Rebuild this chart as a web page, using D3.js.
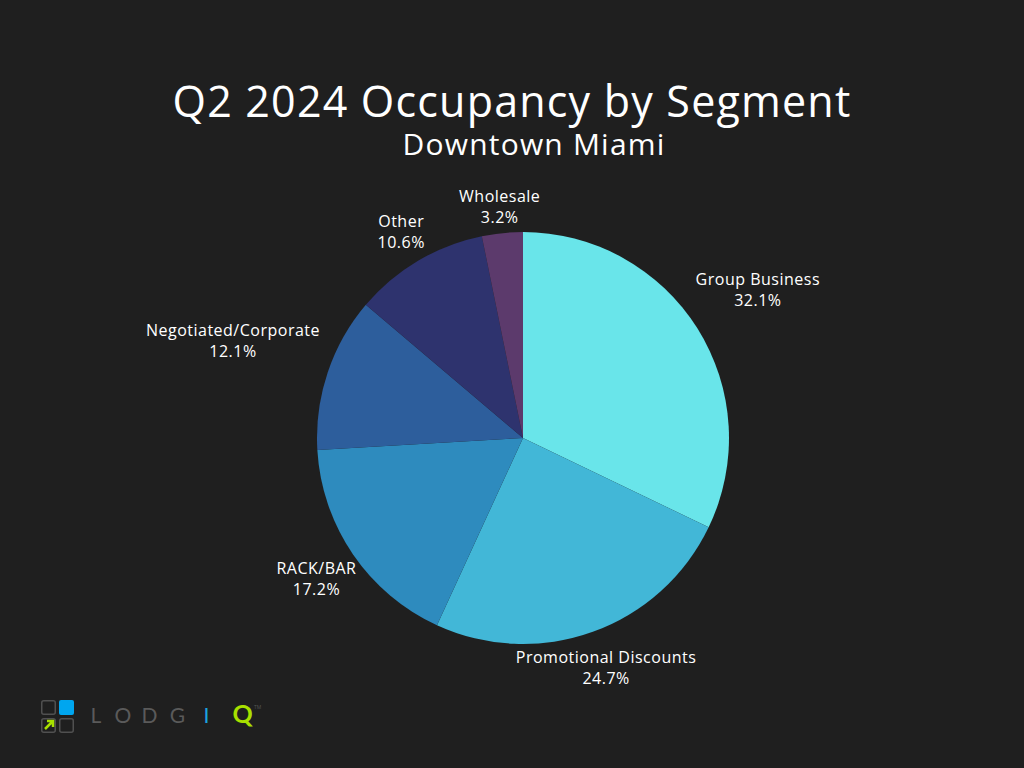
<!DOCTYPE html>
<html>
<head>
<meta charset="utf-8">
<script src="https://cdn.jsdelivr.net/npm/d3@7"></script>
<style>
  body { margin: 0; background: #1f1f1f; }
  svg { display: block; font-family: "Open Sans", Lato, sans-serif; }
</style>
</head>
<body>
<div id="chart"></div>
<script>
const segments = ["Group Business", "Promotional Discounts", "RACK/BAR", "Negotiated/Corporate", "Other", "Wholesale"];
const shares = [32.1, 24.7, 17.2, 12.1, 10.6, 3.2];
const colors = ["#69e5ea", "#42b7d7", "#2e8bbe", "#2d5e9c", "#2e336e", "#5c3a6c"];

const width = 1024, height = 768;
const cx = 523, cy = 438, radius = 206;

const svg = d3.select("#chart")
    .append("svg")
    .attr("width", width)
    .attr("height", height);

svg.append("rect").attr("width", width).attr("height", height).attr("fill", "#1f1f1f");

// titulo
svg.append("text")
    .attr("x", 512).attr("y", 117)
    .attr("text-anchor", "middle")
    .attr("fill", "#fff")
    .style("font-size", "43px")
    .style("letter-spacing", "1.2px")
    .text("Q2 2024 Occupancy by Segment");

svg.append("text")
    .attr("x", 534).attr("y", 155)
    .attr("text-anchor", "middle")
    .attr("fill", "#fff")
    .style("font-size", "30px")
    .style("letter-spacing", "1.2px")
    .text("Downtown Miami");

const pieData = segments.map((s, i) => ({ key: s, value: shares[i], color: colors[i] }));
const pie = d3.pie().sort(null).value(d => d.value);
const arc = d3.arc().innerRadius(0).outerRadius(radius);

const g = svg.append("g").attr("transform", `translate(${cx}, ${cy})`);

const arcs = g.selectAll(".arc")
    .data(pie(pieData))
    .enter()
    .append("g")
    .attr("class", "arc");

arcs.append("path")
    .attr("d", arc)
    .attr("fill", d => d.data.color);

// labels fora da tarte, empurrados ao longo do raio conforme a largura do texto
const lineH = 21;
arcs.each(function (d) {
    const a = (d.startAngle + d.endAngle) / 2;
    const ux = Math.sin(a), uy = -Math.cos(a);
    const label = d3.select(this).append("text")
        .attr("text-anchor", "middle")
        .attr("fill", "#fff")
        .style("font-size", "16px")
        .style("letter-spacing", "0.5px");
    label.append("tspan").attr("x", 0).attr("dy", 0).text(d.data.key);
    label.append("tspan").attr("x", 0).attr("dy", lineH).text(`${d.data.value.toFixed(1)}%`);

    const hw = label.node().getBBox().width / 2;
    const dist = radius + 15 + hw * Math.abs(ux) - 7 * uy;
    const x = ux * dist, y = uy * dist;
    label.attr("transform", `translate(${x}, ${y - 5.5})`);
});

// logo
const logo = svg.append("g").attr("transform", "translate(41, 700)");
const sq = 15, gap = 3;
[[0, 0], [1, 1], [0, 1]].forEach(([c, r]) => {
    logo.append("rect")
        .attr("x", c * (sq + gap) + 0.75).attr("y", r * (sq + gap) + 0.75)
        .attr("width", sq - 1.5).attr("height", sq - 1.5)
        .attr("rx", 2)
        .attr("fill", "none")
        .attr("stroke", "#505050")
        .attr("stroke-width", 1.5);
});
logo.append("rect")
    .attr("x", sq + gap).attr("y", 0)
    .attr("width", sq).attr("height", sq)
    .attr("rx", 2)
    .attr("fill", "#00a6ef");
logo.append("path")
    .attr("d", "M4,29 L11,22 M6,21 L12,21 L12,27")
    .attr("stroke", "#a8e000")
    .attr("stroke-width", 2.5)
    .attr("fill", "none");

const letters = ["L", "O", "D", "G", "I", "Q"];
const letterX = [96, 123, 149.5, 177.5, 206.5, 242.5];
const letterColors = ["#5a5a5a", "#5a5a5a", "#5a5a5a", "#5a5a5a", "#1aa3e0", "#a8e000"];
letters.forEach((l, i) => {
    svg.append("text")
        .attr("x", letterX[i]).attr("y", 723)
        .attr("text-anchor", "middle")
        .attr("fill", letterColors[i])
        .style("font-family", "Lato, sans-serif")
        .style("font-size", l === "Q" ? "25px" : "21px")
        .style("font-weight", l === "Q" ? "bold" : "normal")
        .text(l);
});
svg.append("text")
    .attr("x", 254).attr("y", 709)
    .attr("fill", "#555")
    .style("font-size", "5px")
    .text("TM");
</script>
</body>
</html>
